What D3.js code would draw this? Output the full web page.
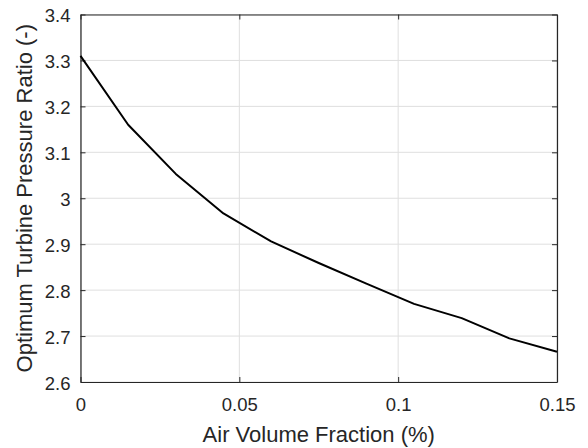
<!DOCTYPE html>
<html>
<head>
<meta charset="utf-8">
<script src="https://cdn.jsdelivr.net/npm/d3@7"></script>
<style>
  body { margin: 0; background: #fff; }
  text { font-family: "Liberation Sans", Arial, sans-serif; fill: #262626; }
</style>
</head>
<body>
<script>
// air volume fraction vs optimum pressure ratio
const fractions = [0, 0.015, 0.03, 0.045, 0.06, 0.075, 0.09, 0.105, 0.12, 0.135, 0.15]
const ratios = [3.31, 3.16, 3.053, 2.967, 2.906, 2.859, 2.814, 2.77, 2.739, 2.695, 2.666]
const xTicks = [0, 0.05, 0.1, 0.15]
const yTicks = [2.6, 2.7, 2.8, 2.9, 3, 3.1, 3.2, 3.3, 3.4]

const width = 588, height = 448
const margin = { left: 80.5, right: 31, top: 14.5, bottom: 66 }

const svg = d3.select('body').append('svg')
    .attr('width', width)
    .attr('height', height)

const x = d3.scaleLinear().domain([0, 0.15]).range([margin.left, width - margin.right])
const y = d3.scaleLinear().domain([2.6, 3.4]).range([height - margin.bottom, margin.top])

// grid
svg.append('g').selectAll('line')
    .data(xTicks)
    .enter()
    .append('line')
    .attr('x1', d => x(d)).attr('x2', d => x(d))
    .attr('y1', y(2.6)).attr('y2', y(3.4))
    .attr('stroke', '#dfdfdf')
svg.append('g').selectAll('line')
    .data(yTicks)
    .enter()
    .append('line')
    .attr('x1', x(0)).attr('x2', x(0.15))
    .attr('y1', d => y(d)).attr('y2', d => y(d))
    .attr('stroke', '#dfdfdf')

const fmt = d => d === 3 ? '3' : String(d)

const xAxis = svg.append('g')
    .attr('transform', `translate(0,${y(2.6)})`)
    .call(d3.axisBottom(x).tickValues(xTicks).tickFormat(fmt).tickSizeInner(-5).tickSizeOuter(0).tickPadding(16))
const xAxisTop = svg.append('g')
    .attr('transform', `translate(0,${y(3.4)})`)
    .call(d3.axisTop(x).tickValues(xTicks).tickFormat('').tickSizeInner(-5).tickSizeOuter(0))
const yAxis = svg.append('g')
    .attr('transform', `translate(${x(0)},0)`)
    .call(d3.axisLeft(y).tickValues(yTicks).tickFormat(fmt).tickSizeInner(-5).tickSizeOuter(0).tickPadding(10))
const yAxisRight = svg.append('g')
    .attr('transform', `translate(${x(0.15)},0)`)
    .call(d3.axisRight(y).tickValues(yTicks).tickFormat('').tickSizeInner(-5).tickSizeOuter(0))

;[xAxis, xAxisTop, yAxis, yAxisRight].forEach(g => {
    g.select('.domain').attr('stroke', '#262626').attr('stroke-width', 1.2)
    g.selectAll('.tick line').attr('stroke', '#262626')
    g.selectAll('.tick text')
        .attr('font-size', 18.5)
        .attr('font-family', '"Liberation Sans", Arial, sans-serif')
        .attr('fill', '#262626')
})
yAxis.selectAll('.tick text').attr('dy', '0.4em')

// curve
const line = d3.line()
    .x((d, i) => x(fractions[i]))
    .y(d => y(d))
svg.append('path')
    .datum(ratios)
    .attr('d', line)
    .attr('fill', 'none')
    .attr('stroke', '#000')
    .attr('stroke-width', 2)
    .attr('stroke-linejoin', 'round')

svg.append('text')
    .attr('x', (x(0) + x(0.15)) / 2)
    .attr('y', 441.5)
    .attr('text-anchor', 'middle')
    .attr('font-size', 22)
    .text('Air Volume Fraction (%)')

svg.append('text')
    .attr('transform', `translate(32,${(y(2.6) + y(3.4)) / 2}) rotate(-90)`)
    .attr('text-anchor', 'middle')
    .attr('font-size', 22)
    .text('Optimum Turbine Pressure Ratio (-)')
</script>
</body>
</html>
